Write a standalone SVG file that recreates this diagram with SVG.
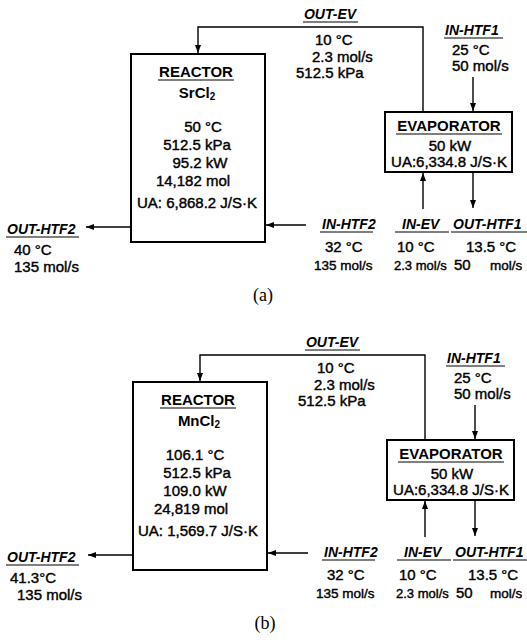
<svg xmlns="http://www.w3.org/2000/svg" width="527" height="641" viewBox="0 0 527 641">
<style>
.t{font-family:"Liberation Sans",Arial,sans-serif;font-size:15px;fill:#000;stroke:#000;stroke-width:0.4}
.s{font-size:13px}
.m{font-size:13.5px}
.h{font-family:"Liberation Sans",Arial,sans-serif;font-size:15px;font-weight:bold;fill:#000}
.l{font-family:"Liberation Sans",Arial,sans-serif;font-size:14px;font-weight:bold;font-style:italic;fill:#000}
.c{text-anchor:middle}
.cap{font-family:"Liberation Serif","Times New Roman",serif;font-size:18px;fill:#000;text-anchor:middle}
.box{fill:#fff;stroke:#000;stroke-width:2}
.ln{fill:none;stroke:#000;stroke-width:1.4}
.ul{stroke:#000;stroke-width:1.2}
</style>
<defs>
<marker id="ar" markerUnits="userSpaceOnUse" markerWidth="8" markerHeight="6" refX="8" refY="3" orient="auto">
<path d="M0,0 L8,3 L0,6 z" fill="#000"/>
</marker>
</defs>

<!-- Panel (a) -->
<g id="panel-a">
<g id="connectors-a">
<path class="ln" d="M423,112 V27 H198 V53" marker-end="url(#ar)"/>
<path class="ln" d="M473,77 V111" marker-end="url(#ar)"/>
<path class="ln" d="M423,209 V173" marker-end="url(#ar)"/>
<path class="ln" d="M473,172 V208" marker-end="url(#ar)"/>
<path class="ln" d="M306,225 H266" marker-end="url(#ar)"/>
<path class="ln" d="M131,227 H86" marker-end="url(#ar)"/>
</g>
<g id="reactor-a">
<rect class="box" x="131" y="54" width="134" height="188"/>
<text class="h c" x="196" y="77">REACTOR</text>
<line class="ul" x1="158" y1="80" x2="234" y2="80"/>
<text class="h c" x="197" y="98">SrCl<tspan font-size="10" dy="2">2</tspan></text>
<text class="t c" x="203" y="132">50 °C</text>
<text class="t c" x="197" y="150">512.5 kPa</text>
<text class="t c" x="200" y="168">95.2 kW</text>
<text class="t c" x="193" y="186">14,182 mol</text>
<text class="t c" x="197" y="208">UA: 6,868.2 J/S·K</text>
</g>
<g id="evaporator-a">
<rect class="box" x="385" y="112" width="127" height="60"/>
<text class="h c" x="449" y="131">EVAPORATOR</text>
<line class="ul" x1="396" y1="134" x2="502" y2="134"/>
<text class="t c" x="450" y="151">50 kW</text>
<text class="t c" x="449" y="167">UA:6,334.8 J/S·K</text>
</g>
<g id="out-ev-a">
<text class="l c" x="330" y="19">OUT-EV</text>
<line class="ul" x1="303" y1="22" x2="358" y2="22"/>
<text class="t" x="315" y="45">10 °C</text>
<text class="t" x="312" y="62">2.3 mol/s</text>
<text class="t" x="296" y="78">512.5 kPa</text>
</g>
<g id="in-htf1-a">
<text class="l" x="445" y="35">IN-HTF1</text>
<line class="ul" x1="444" y1="38" x2="503" y2="38"/>
<text class="t" x="452" y="55">25 °C</text>
<text class="t" x="452" y="71">50 mol/s</text>
</g>
<g id="in-htf2-a">
<text class="l" x="322" y="229">IN-HTF2</text>
<line class="ul" x1="320" y1="232" x2="373" y2="232"/>
<text class="t" x="325" y="252">32 °C</text>
<text class="t m" x="314" y="270">135 mol/s</text>
</g>
<g id="in-ev-a">
<text class="l" x="402" y="229">IN-EV</text>
<line class="ul" x1="395" y1="232" x2="449" y2="232"/>
<text class="t" x="397" y="252">10 °C</text>
<text class="t s" x="394" y="270">2.3 mol/s</text>
</g>
<g id="out-htf1-a">
<text class="l" x="453" y="229">OUT-HTF1</text>
<line class="ul" x1="451" y1="232" x2="527" y2="232"/>
<text class="t" x="466" y="252">13.5 °C</text>
<text class="t" x="454" y="270">50</text>
<text class="t m" x="490" y="270">mol/s</text>
</g>
<g id="out-htf2-a">
<text class="l" x="7" y="234">OUT-HTF2</text>
<line class="ul" x1="6" y1="237" x2="79" y2="237"/>
<text class="t" x="14" y="255">40 °C</text>
<text class="t" x="14" y="272">135 mol/s</text>
</g>
<text class="cap" x="263" y="301">(a)</text>
</g>

<!-- Panel (b) -->
<g id="panel-b" transform="translate(2,328)">
<g id="connectors-b">
<path class="ln" d="M423,112 V27 H198 V53" marker-end="url(#ar)"/>
<path class="ln" d="M473,77 V111" marker-end="url(#ar)"/>
<path class="ln" d="M423,209 V173" marker-end="url(#ar)"/>
<path class="ln" d="M473,172 V208" marker-end="url(#ar)"/>
<path class="ln" d="M306,225 H266" marker-end="url(#ar)"/>
<path class="ln" d="M131,227 H86" marker-end="url(#ar)"/>
</g>
<g id="reactor-b">
<rect class="box" x="131" y="54" width="134" height="188"/>
<text class="h c" x="196" y="77">REACTOR</text>
<line class="ul" x1="158" y1="80" x2="234" y2="80"/>
<text class="h c" x="197" y="98">MnCl<tspan font-size="10" dy="2">2</tspan></text>
<text class="t c" x="193" y="132">106.1 °C</text>
<text class="t c" x="195" y="150">512.5 kPa</text>
<text class="t c" x="193" y="168">109.0 kW</text>
<text class="t c" x="189" y="186">24,819 mol</text>
<text class="t c" x="196" y="208">UA: 1,569.7 J/S·K</text>
</g>
<g id="evaporator-b">
<rect class="box" x="385" y="112" width="127" height="60"/>
<text class="h c" x="449" y="131">EVAPORATOR</text>
<line class="ul" x1="396" y1="134" x2="502" y2="134"/>
<text class="t c" x="450" y="151">50 kW</text>
<text class="t c" x="449" y="167">UA:6,334.8 J/S·K</text>
</g>
<g id="out-ev-b">
<text class="l c" x="330" y="19">OUT-EV</text>
<line class="ul" x1="303" y1="22" x2="358" y2="22"/>
<text class="t" x="315" y="45">10 °C</text>
<text class="t" x="312" y="62">2.3 mol/s</text>
<text class="t" x="296" y="78">512.5 kPa</text>
</g>
<g id="in-htf1-b">
<text class="l" x="445" y="35">IN-HTF1</text>
<line class="ul" x1="444" y1="38" x2="503" y2="38"/>
<text class="t" x="452" y="55">25 °C</text>
<text class="t" x="452" y="71">50 mol/s</text>
</g>
<g id="in-htf2-b">
<text class="l" x="322" y="229">IN-HTF2</text>
<line class="ul" x1="320" y1="232" x2="373" y2="232"/>
<text class="t" x="325" y="252">32 °C</text>
<text class="t m" x="314" y="270">135 mol/s</text>
</g>
<g id="in-ev-b">
<text class="l" x="402" y="229">IN-EV</text>
<line class="ul" x1="395" y1="232" x2="449" y2="232"/>
<text class="t" x="397" y="252">10 °C</text>
<text class="t s" x="394" y="270">2.3 mol/s</text>
</g>
<g id="out-htf1-b">
<text class="l" x="453" y="229">OUT-HTF1</text>
<line class="ul" x1="451" y1="232" x2="525" y2="232"/>
<text class="t" x="466" y="252">13.5 °C</text>
<text class="t" x="454" y="270">50</text>
<text class="t m" x="488" y="270">mol/s</text>
</g>
<g id="out-htf2-b">
<text class="l" x="5" y="234">OUT-HTF2</text>
<line class="ul" x1="4" y1="237" x2="77" y2="237"/>
<text class="t" x="8" y="255">41.3°C</text>
<text class="t" x="15" y="272">135 mol/s</text>
</g>
<text class="cap" x="263" y="301">(b)</text>
</g>
</svg>
